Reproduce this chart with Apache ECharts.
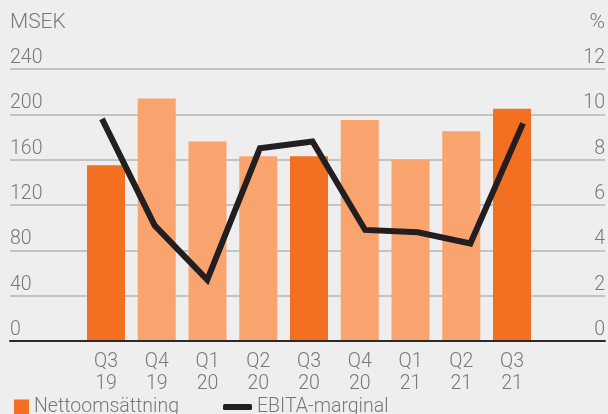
<!DOCTYPE html>
<html>
<head>
<meta charset="utf-8">
<script src="https://cdn.jsdelivr.net/npm/echarts@6/dist/echarts.min.js"></script>
<style>
html, body { margin: 0; padding: 0; background: #eeeeee; }
#chart { width: 608px; height: 414px; }
</style>
</head>
<body>
<div id="chart"></div>
<script>
// data
const quarters = ['Q3\n19', 'Q4\n19', 'Q1\n20', 'Q2\n20', 'Q3\n20', 'Q4\n20', 'Q1\n21', 'Q2\n21', 'Q3\n21'];
const nettoomsattning = [155, 214, 176, 163, 163, 195, 160, 185, 205];
const highlighted = [true, false, false, false, true, false, false, false, true];
const ebitaMarginal = [9.8, 5.1, 2.7, 8.5, 8.8, 4.9, 4.8, 4.3, 9.6];

const DARK = '#f36f21';
const LIGHT = '#f9a46f';
const TEXT = '#787878';
const FONT = 'Roboto';
const FS = 19.5;

const chart = echarts.init(document.getElementById('chart'));

const plotTop = 69, plotHeight = 272;

const option = {
    backgroundColor: '#eeeeee',
    animation: false,
    textStyle: { fontFamily: FONT },
    grid: [
        { left: 10, right: 2, top: plotTop, height: plotHeight },
        { left: 80.6, width: 456.8, top: plotTop, height: plotHeight },
        { left: 102, width: 421, top: plotTop, height: plotHeight }
    ],
    legend: [
        {
            left: 9, top: 392,
            itemWidth: 15, itemHeight: 15, icon: 'rect',
            data: ['Nettoomsättning'],
            textStyle: { fontSize: FS, color: TEXT, fontWeight: 300 }
        },
        {
            left: 218, top: 392,
            itemWidth: 29, itemHeight: 6, icon: 'roundRect',
            data: ['EBITA-marginal'],
            textStyle: { fontSize: FS, color: TEXT, fontWeight: 300 }
        }
    ],
    xAxis: [
        {
            gridIndex: 0, type: 'value', min: 0, max: 1, z: 10,
            axisLine: { show: true, onZero: false, lineStyle: { color: '#2b2b2b', width: 2 } },
            axisTick: { show: false }, axisLabel: { show: false }, splitLine: { show: false }
        },
        {
            gridIndex: 1, type: 'category', data: quarters,
            axisLine: { show: false }, axisTick: { show: false },
            axisLabel: { color: TEXT, fontSize: FS, fontWeight: 300, lineHeight: 22, margin: 10 }
        },
        {
            gridIndex: 2, type: 'category', data: quarters, boundaryGap: false, show: false
        }
    ],
    yAxis: [
        {
            gridIndex: 0, type: 'value', min: 0, max: 240, interval: 40,
            name: 'MSEK', nameLocation: 'end', nameGap: 46,
            nameTextStyle: { color: TEXT, fontSize: 21, fontWeight: 300, align: 'left', verticalAlign: 'middle' },
            axisLine: { show: false }, axisTick: { show: false },
            axisLabel: { inside: true, margin: 0, color: TEXT, fontSize: FS, fontWeight: 300,
                verticalAlign: 'bottom', padding: [0, 0, 1, 0] },
            splitLine: { lineStyle: { color: '#c3c3c3', width: 2 } }
        },
        {
            gridIndex: 0, type: 'value', position: 'right', min: 0, max: 12, interval: 2,
            name: '%', nameLocation: 'end', nameGap: 46,
            nameTextStyle: { color: TEXT, fontSize: 21, fontWeight: 300, align: 'right', verticalAlign: 'middle' },
            axisLine: { show: false }, axisTick: { show: false },
            axisLabel: { inside: true, margin: 0, color: TEXT, fontSize: FS, fontWeight: 300,
                verticalAlign: 'bottom', padding: [0, 0, 1, 0] },
            splitLine: { show: false }
        },
        { gridIndex: 1, type: 'value', min: 0, max: 240, show: false },
        { gridIndex: 2, type: 'value', min: 0, max: 12, show: false }
    ],
    series: [
        {
            name: 'Nettoomsättning', type: 'bar', xAxisIndex: 1, yAxisIndex: 2,
            barWidth: 38, itemStyle: { color: DARK },
            data: nettoomsattning.map((v, i) => ({
                value: v, itemStyle: { color: highlighted[i] ? DARK : LIGHT }
            }))
        },
        {
            name: 'EBITA-marginal', type: 'line', xAxisIndex: 2, yAxisIndex: 3,
            data: ebitaMarginal, symbol: 'none', z: 5,
            lineStyle: { color: '#231f20', width: 6, join: 'miter' },
            itemStyle: { color: '#231f20' }
        }
    ]
};

chart.setOption(option);
</script>
</body>
</html>
